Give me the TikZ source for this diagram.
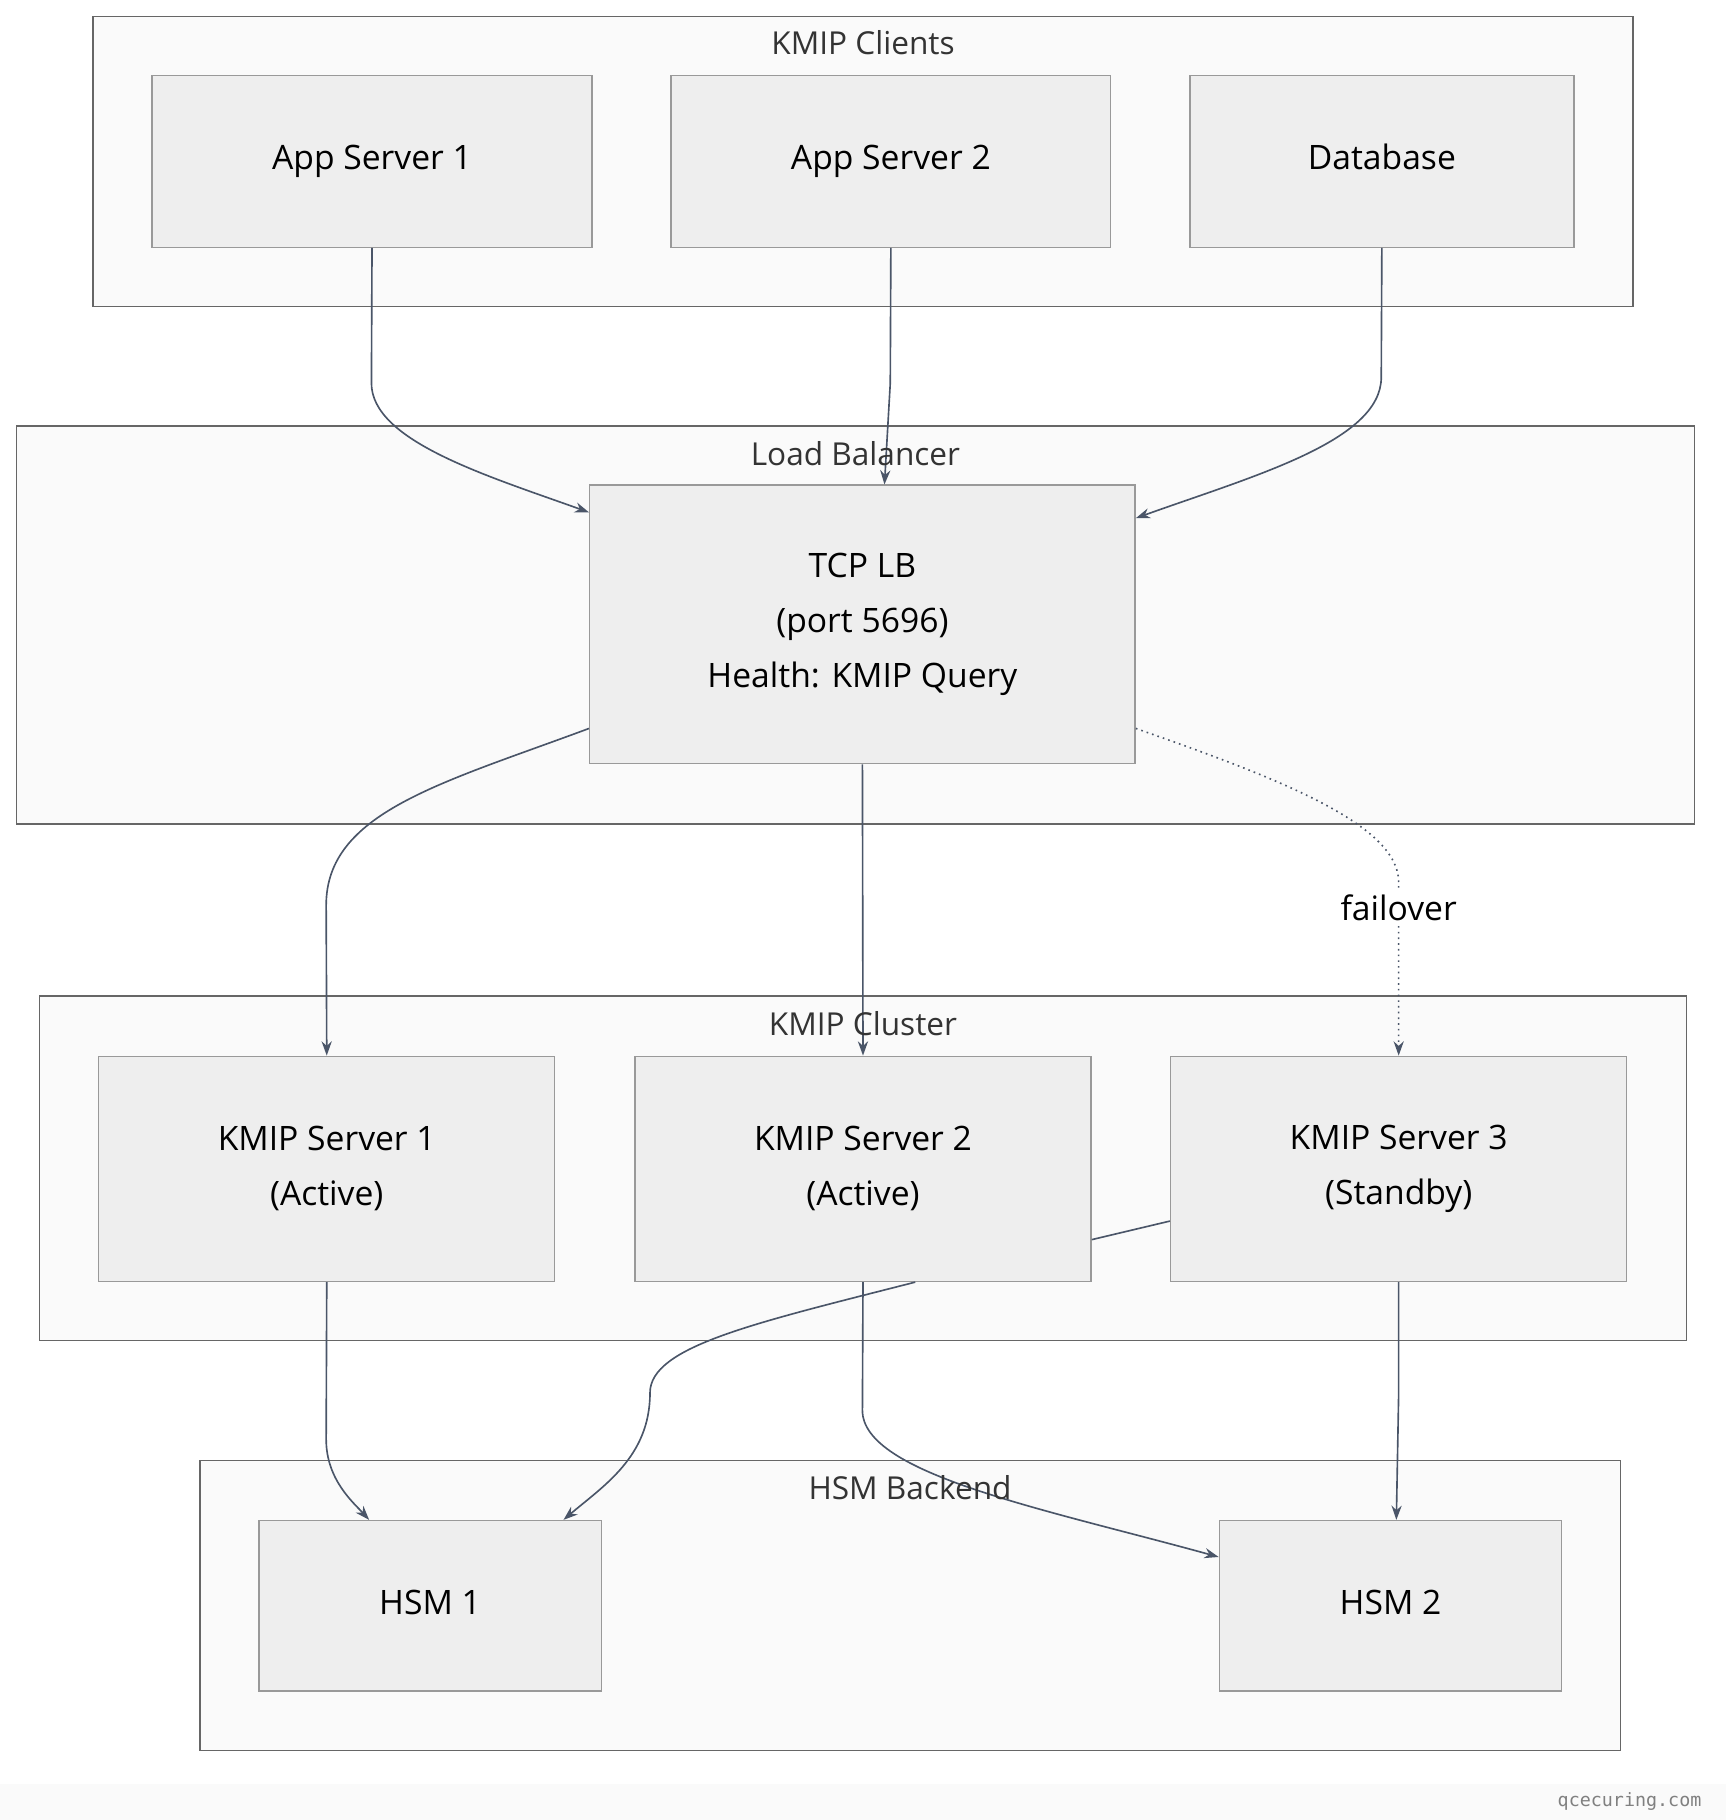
\documentclass[tikz,border=0pt]{standalone}
\usepackage{fontspec}
\setmainfont{Open Sans}
\setmonofont{DejaVu Sans Mono}
\usetikzlibrary{arrows.meta,positioning}
\definecolor{grpfill}{HTML}{FAFAFA}
\definecolor{grpline}{HTML}{666666}
\definecolor{boxfill}{HTML}{EEEEEE}
\definecolor{boxline}{HTML}{999999}
\definecolor{edge}{HTML}{4A5568}
\definecolor{titletext}{HTML}{333333}

\begin{document}
\begin{tikzpicture}[x=0.02cm, y=-0.02cm]
    \tikzset{group/.style = {rectangle, draw=grpline, fill=grpfill, line width=0.7pt, inner sep=0pt},
        box/.style = {rectangle, draw=boxline, fill=boxfill, line width=0.7pt, inner sep=0pt,
            align=center, font=\fontsize{16.5}{27}\selectfont},
        single/.style = {text height=12pt, text depth=4pt},
        gtitle/.style = {font=\fontsize{15.5}{18}\selectfont, text=titletext},
        line/.style = {draw=edge, line width=0.8pt, -{Stealth[length=7pt,width=5pt]}}}
    \useasboundingbox (0,0) rectangle (1487,1568);
    \fill[grpfill] (0,1537) rectangle (1487,1568);
    \node[font=\ttfamily\fontsize{9}{10}\selectfont, text=gray, anchor=east] (foot) at (1472,1552) {qcecuring.com};

    % groups
    \node[group, minimum width=26.54cm, minimum height=5cm] (clients) at (743.5,139) {};
    \node[gtitle] (clientst) at (743.5,37) {KMIP Clients};
    \node[group, minimum width=28.92cm, minimum height=6.86cm] (lbgroup) at (737,538.5) {};
    \node[group, minimum width=28.38cm, minimum height=5.94cm] (cluster) at (743.5,1006.5) {};
    \node[group, minimum width=24.48cm, minimum height=5cm] (backend) at (784,1383) {};

    % nodes
    \node[box, single, minimum width=7.58cm, minimum height=2.96cm] (app1) at (320.5,139) {App Server 1};
    \node[box, single, minimum width=7.58cm, minimum height=2.96cm] (app2) at (767.5,139) {App Server 2};
    \node[box, single, minimum width=6.62cm, minimum height=2.96cm] (db) at (1190.5,139) {Database};
    \node[box, minimum width=9.4cm, minimum height=4.8cm] (tcplb) at (743,538) {TCP LB\\(port 5696)\\Health: KMIP Query};
    \node[box, minimum width=7.86cm, minimum height=3.88cm] (kms1) at (281.5,1007) {KMIP Server 1\\(Active)};
    \node[box, minimum width=7.86cm, minimum height=3.88cm] (kms2) at (743.5,1007) {KMIP Server 2\\(Active)};
    \node[box, minimum width=7.86cm, minimum height=3.88cm] (kms3) at (1205,1007) {KMIP Server 3\\(Standby)};
    \node[box, single, minimum width=5.9cm, minimum height=2.94cm] (hsm1) at (370.5,1383.5) {HSM 1};
    \node[box, single, minimum width=5.9cm, minimum height=2.94cm] (hsm2) at (1198,1383.5) {HSM 2};

    % edges
    \path[line] (app1.south) -- (320,330) .. controls (320,380) and (420,410) .. ([yshift=-0.48cm]tcplb.north west);
    \path[line] (app2.south) -- (767,330) -- ([xshift=0.38cm]tcplb.north);
    \path[line] (db.south) -- (1190,325) .. controls (1190,380) and (1080,410) .. ([yshift=-0.58cm]tcplb.north east);
    \path[line] ([yshift=0.62cm]tcplb.south west) .. controls (380,675) and (281,700) .. (281,780) -- (kms1.north);
    \path[line] (tcplb.south) -- (kms2.north);
    \path[line, dotted] ([yshift=0.62cm]tcplb.south east) .. controls (1100,670) and (1205,710) .. (1205,760)
        node[pos=1, below=4pt, font=\fontsize{16.5}{18}\selectfont, fill=white, inner sep=2pt] (failover) {failover} -- (kms3.north);
    \draw[draw=edge, line width=0.8pt] ([yshift=-0.9cm]kms3.west) -- ([yshift=-1.22cm]kms2.east);
    \path[line] (kms1.south) -- (281,1240) .. controls (281,1275) and (305,1295) .. ([xshift=-1.05cm]hsm1.north);
    \path[line] ([xshift=0.9cm]kms2.south) .. controls (650,1140) and (560,1160) .. (560,1200)
        .. controls (560,1255) and (520,1280) .. ([xshift=2.3cm]hsm1.north);
    \path[line] (kms2.south) -- (743,1215) .. controls (743,1270) and (900,1300) .. ([yshift=-0.64cm]hsm2.north west);
    \path[line] (kms3.south) -- (1205,1200) -- ([xshift=0.1cm]hsm2.north);
    \node[gtitle] (lbt) at (737,391) {Load Balancer};
    \node[gtitle] (clustert) at (743.5,882) {KMIP Cluster};
    \node[gtitle] (backendt) at (784,1282) {HSM Backend};
\end{tikzpicture}
\end{document}
